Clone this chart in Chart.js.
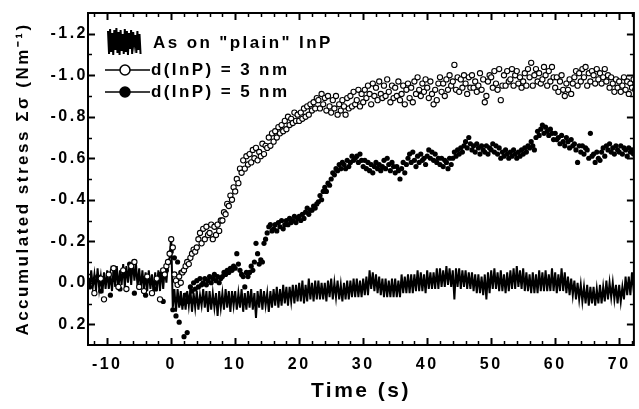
<!DOCTYPE html>
<html>
<head>
<meta charset="utf-8">
<title>Accumulated stress</title>
<script src="https://cdn.jsdelivr.net/npm/chart.js@4/dist/chart.umd.min.js"></script>
<style>
  body { margin: 0; background: #fff; }
  #wrap { width: 639px; height: 409px; }
</style>
</head>
<body>
<div id="wrap"><canvas id="stressChart" width="639" height="409"></canvas></div>
<script>
/*
*/
var tStart = -13;
var tStep = 0.25;

var xTicks = [-10, 0, 10, 20, 30, 40, 50, 60, 70];
var yTicks = [-1.2, -1.0, -0.8, -0.6, -0.4, -0.2, 0.0, 0.2];

var seriesNames = ['As on "plain" InP', 'd(InP) = 3 nm', 'd(InP) = 5 nm'];

// As on "plain" InP (noisy trace)
var plainInP = [
  -0.05, 0.03, -0.06, 0.02,   // -13
  -0.04, 0.04, -0.07, 0.03,   // -12
  -0.03, 0.05, -0.05, 0.03,   // -11
  -0.06, 0.03, -0.04, 0.04,   // -10
  -0.07, 0.02, -0.08, 0.03,   // -9
  -0.06, 0.01, -0.09, 0.02,   // -8
  -0.08, 0.00, -0.10, 0.01,   // -7
  -0.11, -0.01, -0.09, 0.02,  // -6
  -0.07, 0.03, -0.06, 0.04,   // -5
  -0.05, 0.04, -0.06, 0.03,   // -4
  -0.04, 0.05, -0.05, 0.04,   // -3
  -0.06, 0.04, -0.07, 0.03,   // -2
  -0.07, 0.00, -0.10, -0.12,  // -1
  -0.22, 0.12, 0.03, 0.14,    // 0
  0.03, 0.12, 0.04, 0.13,
  0.05, 0.13, 0.04, 0.11,
  0.03, 0.14, 0.05, 0.12,
  0.04, 0.13, 0.06, 0.11,
  0.03, 0.12, 0.04, 0.14,     // 5
  0.04, 0.13, 0.05, 0.12,
  0.05, 0.16, 0.04, 0.12,
  0.05, 0.13, 0.03, 0.12,
  0.04, 0.14, 0.04, 0.11,
  0.04, 0.13, 0.05, 0.12,     // 10
  0.03, 0.14, 0.05, 0.13,
  0.04, 0.12, 0.03, 0.13,
  0.05, 0.17, 0.04, 0.12,
  0.03, 0.13, 0.04, 0.11,
  0.05, 0.14, 0.04, 0.12,     // 15
  0.03, 0.11, 0.02, 0.12,
  0.03, 0.11, 0.01, 0.10,
  0.02, 0.11, 0.02, 0.09,
  0.01, 0.10, 0.01, 0.09,
  0.00, 0.09, -0.01, 0.10,    // 20
  0.01, 0.09, -0.02, 0.08,
  0.00, 0.09, -0.01, 0.08,
  -0.01, 0.08, 0.00, 0.08,
  0.00, 0.09, -0.01, 0.07,
  -0.02, 0.08, 0.00, 0.07,    // 25
  -0.01, 0.08, 0.01, 0.09,
  0.00, 0.08, -0.01, 0.08,
  -0.01, 0.07, -0.02, 0.07,
  -0.02, 0.07, -0.01, 0.07,
  -0.02, 0.06, -0.03, 0.06,   // 30
  -0.06, 0.03, -0.05, 0.04,
  -0.04, 0.05, -0.03, 0.06,
  -0.02, 0.07, -0.02, 0.07,
  -0.01, 0.07, -0.02, 0.07,
  -0.02, 0.07, -0.01, 0.07,   // 35
  -0.04, 0.05, -0.03, 0.05,
  -0.04, 0.05, -0.04, 0.05,
  -0.04, 0.04, -0.06, 0.04,
  -0.05, 0.04, -0.04, 0.05,
  -0.06, 0.03, -0.05, 0.03,   // 40
  -0.05, 0.03, -0.07, 0.03,
  -0.07, 0.02, -0.06, 0.02,
  -0.08, 0.01, -0.07, 0.02,
  -0.06, 0.08, -0.07, 0.02,
  -0.07, 0.03, -0.06, 0.02,   // 45
  -0.06, 0.03, -0.05, 0.03,
  -0.05, 0.04, -0.04, 0.05,
  -0.04, 0.05, -0.03, 0.06,
  -0.04, 0.08, -0.05, 0.05,
  -0.06, 0.03, -0.07, 0.03,   // 50
  -0.05, 0.04, -0.06, 0.04,
  -0.04, 0.05, -0.05, 0.04,
  -0.06, 0.03, -0.07, 0.03,
  -0.08, 0.02, -0.06, 0.03,
  -0.07, 0.04, -0.05, 0.04,   // 55
  -0.04, 0.05, -0.05, 0.05,
  -0.04, 0.05, -0.06, 0.04,
  -0.05, 0.04, -0.06, 0.04,
  -0.04, 0.04, -0.07, 0.04,
  -0.05, 0.05, -0.04, 0.04,   // 60
  -0.07, 0.04, -0.05, 0.05,
  -0.03, 0.06, -0.02, 0.06,
  -0.01, 0.08, 0.00, 0.08,
  0.01, 0.09, 0.02, 0.10,
  0.01, 0.11, 0.02, 0.10,     // 65
  0.02, 0.11, 0.03, 0.10,
  0.01, 0.10, 0.02, 0.09,
  -0.01, 0.08, 0.00, 0.07,
  0.00, 0.08, 0.01, 0.10,
  0.01, 0.09, 0.02, 0.08,     // 70
  -0.03, 0.06, -0.03, 0.06,
  -0.05, 0.03, -0.04
];

// d(InP) = 3 nm (open circles)
var inp3nm = [
  -0.03, null, null, null,    // -13
  0.05, null, null, null,
  -0.02, null, 0.08, null,
  null, -0.04, null, null,    // -10
  -0.07, null, null, 0.02,
  null, null, -0.06, null,
  0.03, null, null, -0.08,
  null, -0.10, null, null,
  0.02, null, null, 0.04,     // -5
  null, -0.03, null, null,
  0.05, null, null, -0.02,
  null, 0.08, null, -0.06,
  -0.04, -0.08, -0.10, -0.14, // -1
  -0.21, -0.17, -0.04, -0.01, // 0
  0.01, -0.03, 0.00, -0.05,
  -0.06, -0.08, -0.10, -0.09,
  -0.12, -0.14, -0.16, -0.15,
  -0.17, -0.21, -0.24, -0.19,
  -0.26, -0.21, -0.27, -0.23, // 5
  -0.24, -0.28, -0.21, -0.27,
  -0.23, -0.28, -0.25, -0.30,
  -0.30, -0.34, -0.33, -0.38,
  -0.37, -0.42, -0.40, -0.46,
  -0.44, -0.50, -0.48, -0.55, // 10
  -0.53, -0.59, -0.55, -0.61,
  -0.57, -0.62, -0.58, -0.64,
  -0.60, -0.65, -0.59, -0.63,
  -0.61, -0.67, -0.62, -0.66,
  -0.65, -0.70, -0.66, -0.72, // 15
  -0.68, -0.73, -0.70, -0.75,
  -0.72, -0.76, -0.73, -0.78,
  -0.74, -0.80, -0.76, -0.79,
  -0.77, -0.82, -0.78, -0.81,
  -0.78, -0.82, -0.79, -0.84, // 20
  -0.80, -0.85, -0.81, -0.86,
  -0.83, -0.87, -0.84, -0.89,
  -0.88, -0.84, -0.91, -0.86,
  -0.89, -0.83, -0.90, -0.85,
  -0.82, -0.88, -0.84, -0.90, // 25
  -0.81, -0.86, -0.83, -0.88,
  -0.85, -0.81, -0.89, -0.84,
  -0.90, -0.85, -0.92, -0.86,
  -0.88, -0.93, -0.85, -0.91,
  -0.87, -0.93, -0.89, -0.95, // 30
  -0.91, -0.86, -0.96, -0.90,
  -0.94, -0.88, -0.97, -0.91,
  -0.89, -0.95, -0.90, -0.98,
  -0.92, -0.87, -0.95, -0.89,
  -0.94, -0.90, -0.97, -0.88, // 35
  -0.91, -0.95, -0.86, -0.93,
  -0.96, -0.89, -0.94, -0.87,
  -0.97, -0.91, -0.99, -0.93,
  -0.90, -0.96, -0.92, -0.98,
  -0.94, -0.89, -0.97, -0.91, // 40
  -0.86, -0.93, -0.88, -0.96,
  -0.99, -0.92, -0.96, -0.90,
  -0.98, -0.93, -1.00, -0.95,
  -0.97, -1.05, -0.93, -0.99,
  -0.92, -0.98, -0.94, -1.00, // 45
  -0.96, -0.91, -0.99, -0.94,
  -1.00, -0.94, -0.97, -0.92,
  -0.95, -1.01, -0.93, -0.98,
  -0.87, -0.90, -0.97, -1.00,
  -0.99, -0.94, -1.02, -0.96, // 50
  -0.93, -1.03, -0.88, -0.95,
  -1.00, -0.95, -1.02, -0.97,
  -0.98, -1.03, -0.95, -1.00,
  -1.02, -0.96, -0.99, -0.94,
  -0.97, -1.01, -0.95, -1.03, // 55
  -0.99, -1.06, -0.95, -1.00,
  -1.03, -0.97, -1.01, -0.96,
  -0.98, -1.04, -1.00, -0.95,
  -1.02, -0.97, -1.04, -0.99,
  -0.94, -0.99, -0.92, -0.97, // 60
  -1.00, -0.93, -0.90, -0.96,
  -0.93, -0.98, -0.91, -0.96,
  -0.99, -1.02, -0.95, -1.01,
  -0.97, -1.03, -0.99, -1.04,
  -0.95, -1.01, -0.97, -1.02, // 65
  -1.00, -0.96, -1.03, -0.98,
  -1.01, -0.96, -0.99, -1.03,
  -0.97, -1.00, -0.94, -0.99,
  -0.96, -0.92, -0.98, -0.94,
  -0.97, -0.92, -0.95, -0.99, // 70
  -0.93, -0.97, -0.91, -0.96,
  -0.94, -0.98, -0.93
];

// d(InP) = 5 nm (filled circles)
var inp5nm = [
  null, 0.02, null, null,     // -13
  null, null, -0.03, null,
  0.04, null, null, null,
  null, null, 0.06, null,     // -10
  null, -0.05, null, null,
  0.03, null, null, null,
  null, null, -0.09, null,
  null, 0.05, null, null,
  null, null, null, -0.02,    // -5
  0.06, null, null, null,
  null, null, 0.03, null,
  null, -0.04, null, 0.09,
  null, -0.06, null, -0.10,   // -1
  -0.15, 0.13, -0.12, 0.16,   // 0
  -0.10, 0.19, -0.05, 0.10,
  0.26, 0.06, 0.24, 0.09,
  0.02, 0.04, 0.00, 0.03,
  -0.01, 0.02, -0.02, 0.01,
  0.00, -0.02, 0.01, -0.01,   // 5
  -0.03, 0.00, -0.02, -0.04,
  -0.01, -0.03, 0.00, -0.02,
  -0.03, -0.05, -0.04, -0.06,
  -0.05, -0.07, -0.06, -0.08,
  -0.07, -0.14, -0.09, -0.06, // 10
  -0.04, -0.03, 0.02, -0.05,
  -0.03, -0.05, -0.08, -0.06,
  -0.10, -0.19, -0.14, -0.09,
  -0.11, -0.10, -0.19, -0.21,
  -0.24, -0.27, -0.28, -0.25, // 15
  -0.26, -0.28, -0.25, -0.29,
  -0.27, -0.30, -0.26, -0.28,
  -0.30, -0.28, -0.31, -0.29,
  -0.30, -0.32, -0.29, -0.31,
  -0.32, -0.30, -0.33, -0.31, // 20
  -0.34, -0.36, -0.33, -0.35,
  -0.35, -0.37, -0.36, -0.38,
  -0.39, -0.42, -0.40, -0.44,
  -0.46, -0.44, -0.48, -0.47,
  -0.50, -0.53, -0.52, -0.55, // 25
  -0.54, -0.57, -0.55, -0.58,
  -0.57, -0.55, -0.59, -0.56,
  -0.58, -0.61, -0.59, -0.60,
  -0.61, -0.58, -0.62, -0.59,
  -0.56, -0.59, -0.55, -0.58, // 30
  -0.54, -0.57, -0.53, -0.56,
  -0.58, -0.55, -0.57, -0.54,
  -0.56, -0.59, -0.55, -0.60,
  -0.57, -0.54, -0.58, -0.56,
  -0.53, -0.56, -0.54, -0.50, // 35
  -0.55, -0.58, -0.53, -0.57,
  -0.60, -0.62, -0.58, -0.63,
  -0.59, -0.56, -0.61, -0.58,
  -0.62, -0.59, -0.60, -0.57,
  -0.61, -0.64, -0.60, -0.63, // 40
  -0.59, -0.62, -0.58, -0.60,
  -0.57, -0.60, -0.56, -0.59,
  -0.58, -0.55, -0.60, -0.57,
  -0.60, -0.63, -0.61, -0.64,
  -0.62, -0.65, -0.63, -0.66, // 45
  -0.68, -0.65, -0.70, -0.67,
  -0.64, -0.66, -0.63, -0.67,
  -0.65, -0.62, -0.66, -0.64,
  -0.63, -0.66, -0.62, -0.65,
  -0.64, -0.67, -0.63, -0.66, // 50
  -0.62, -0.65, -0.60, -0.63,
  -0.61, -0.64, -0.62, -0.60,
  -0.63, -0.61, -0.64, -0.62,
  -0.60, -0.63, -0.61, -0.64,
  -0.62, -0.65, -0.63, -0.66, // 55
  -0.65, -0.68, -0.66, -0.64,
  -0.70, -0.73, -0.71, -0.74,
  -0.76, -0.72, -0.75, -0.73,
  -0.71, -0.74, -0.72, -0.69,
  -0.72, -0.69, -0.70, -0.67, // 60
  -0.71, -0.68, -0.66, -0.70,
  -0.68, -0.65, -0.69, -0.66,
  -0.67, -0.64, -0.58, -0.66,
  -0.63, -0.66, -0.62, -0.65,
  -0.64, -0.60, -0.72, -0.61, // 65
  -0.62, -0.58, -0.63, -0.60,
  -0.59, -0.63, -0.65, -0.61,
  -0.66, -0.64, -0.67, -0.63,
  -0.65, -0.62, -0.66, -0.64,
  -0.63, -0.66, -0.62, -0.65, // 70
  -0.64, -0.61, -0.65, -0.63,
  -0.64, -0.62, -0.63
];

var toPoints = (values) => values.map((v, i) => ({x: tStart + i * tStep, y: v}));

var black = '#000';
var fontFamily = "'Liberation Sans', Arial, Helvetica, sans-serif";
Chart.defaults.font.family = fontFamily;
Chart.defaults.font.weight = 'bold';
Chart.defaults.color = black;

/*
  Frame with inward ticks on all four sides, plus the legend
*/
var frameTicks = {
  id: 'frameTicks',
  beforeDraw(chart) {
    chart.ctx.letterSpacing = '2.5px';
  },
  afterDatasetsDraw(chart) {
    var ctx = chart.ctx;
    var a = chart.chartArea;
    var x = chart.scales.x;
    var y = chart.scales.y;
    ctx.save();
    ctx.strokeStyle = black;
    ctx.lineWidth = 2;
    ctx.strokeRect(a.left, a.top, a.right - a.left, a.bottom - a.top);
    var seg = (x1, y1, x2, y2, w) => {
      ctx.lineWidth = w;
      ctx.beginPath();
      ctx.moveTo(x1, y1);
      ctx.lineTo(x2, y2);
      ctx.stroke();
    };
    for (var t = -12; t <= 72; t += 2) {
      var px = Math.round(x.getPixelForValue(t)) + 0.5;
      var major = xTicks.indexOf(t) >= 0;
      var len = major ? 7 : 4;
      seg(px, a.bottom, px, a.bottom - len, major ? 2 : 1.5);
      seg(px, a.top, px, a.top + len, major ? 2 : 1.5);
    }
    for (var k = -12; k <= 2; k++) {
      var py = Math.round(y.getPixelForValue(k / 10)) + 0.5;
      var maj = k % 2 === 0;
      var l = maj ? 7 : 4;
      seg(a.left, py, a.left + l, py, maj ? 2 : 1.5);
      seg(a.right, py, a.right - l, py, maj ? 2 : 1.5);
    }
    ctx.restore();
  },
  afterDraw(chart) {
    var ctx = chart.ctx;
    ctx.save();
    ctx.strokeStyle = black;
    ctx.fillStyle = black;
    // noisy patch for the plain InP trace
    var zig = [31, 54, 29, 52, 33, 55, 30, 50, 28, 53, 32, 55, 30, 51, 34, 54, 29, 52, 31, 55, 33, 49, 30, 54, 32, 44, 35, 53, 31, 50, 34, 54];
    ctx.lineWidth = 2;
    ctx.beginPath();
    zig.forEach((yy, i) => {
      var xx = 108 + i * 1.05;
      if (i === 0) ctx.moveTo(xx, yy); else ctx.lineTo(xx, yy);
    });
    ctx.stroke();
    // line + marker rows
    ctx.lineWidth = 1.5;
    [70, 92].forEach((yy, i) => {
      ctx.beginPath();
      ctx.moveTo(105, yy);
      ctx.lineTo(150, yy);
      ctx.stroke();
      ctx.beginPath();
      ctx.arc(125, yy, 5, 0, Math.PI * 2);
      ctx.fillStyle = i === 0 ? '#fff' : black;
      ctx.fill();
      ctx.stroke();
    });
    ctx.fillStyle = black;
    ctx.font = 'bold 17px ' + fontFamily;
    ctx.letterSpacing = '2.4px';
    ctx.textBaseline = 'middle';
    ctx.textAlign = 'left';
    ctx.fillText(seriesNames[0], 153, 43);
    ctx.fillText(seriesNames[1], 151, 70);
    ctx.fillText(seriesNames[2], 151, 92);
    ctx.restore();
  }
};

var ctx = document.getElementById('stressChart');

var stressChart = new Chart(ctx, {
  type: 'scatter',
  data: {
    datasets: [{
      label: seriesNames[0],
      data: toPoints(plainInP),
      showLine: true,
      borderColor: black,
      borderWidth: 2,
      pointRadius: 0,
      tension: 0,
      order: 3
    }, {
      label: seriesNames[2],
      data: toPoints(inp5nm),
      backgroundColor: black,
      borderColor: black,
      borderWidth: 0,
      pointRadius: 2.6,
      order: 2
    }, {
      label: seriesNames[1],
      data: toPoints(inp3nm),
      backgroundColor: '#fff',
      borderColor: black,
      borderWidth: 1.1,
      pointRadius: 2.6,
      order: 1
    }]
  },
  options: {
    responsive: false,
    animation: false,
    layout: {
      padding: {left: 0, top: 13, right: 2, bottom: 0}
    },
    plugins: {
      legend: {display: false},
      tooltip: {enabled: false}
    },
    scales: {
      x: {
        type: 'linear',
        min: -13,
        max: 72.3,
        grid: {display: false, drawTicks: false},
        border: {display: false},
        afterBuildTicks: (scale) => { scale.ticks = xTicks.map((v) => ({value: v})); },
        ticks: {
          autoSkip: false,
          maxRotation: 0,
          padding: 10,
          font: {size: 16, weight: 'bold'},
          color: black
        },
        title: {
          display: true,
          text: 'Time (s)',
          font: {size: 21, weight: 'bold'},
          color: black,
          padding: {top: 0, bottom: 5}
        },
        afterFit: (scale) => { scale.height = 64; }
      },
      y: {
        type: 'linear',
        min: -1.3,
        max: 0.3,
        reverse: true,
        grid: {display: false, drawTicks: false},
        border: {display: false},
        afterBuildTicks: (scale) => { scale.ticks = yTicks.map((v) => ({value: v})); },
        ticks: {
          autoSkip: false,
          padding: 0,
          font: {size: 16, weight: 'bold'},
          color: black,
          callback: (v) => Number(v).toFixed(1)
        },
        title: {
          display: true,
          text: 'Accumulated stress \u03A3\u03C3 (Nm\u207B\u00B9)',
          font: {size: 17, weight: 'bold'},
          color: black,
          padding: {top: 13, bottom: 0}
        },
        afterFit: (scale) => { scale.width = 88; }
      }
    }
  },
  plugins: [frameTicks]
});
</script>
</body>
</html>
